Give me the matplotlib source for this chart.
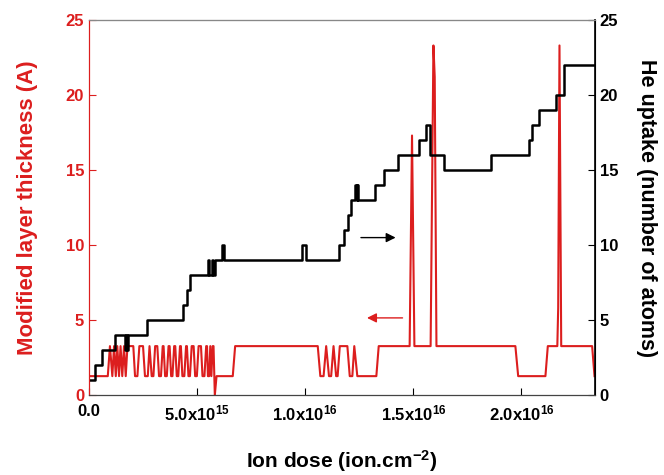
import matplotlib
matplotlib.use('Agg')
import matplotlib.pyplot as plt
import numpy as np

RED = '#dc1e1e'
plt.rcParams['font.family'] = ['Liberation Sans', 'DejaVu Sans']
plt.rcParams['font.weight'] = 'bold'
plt.rcParams['mathtext.fontset'] = 'custom'
plt.rcParams['mathtext.rm'] = 'Liberation Sans:bold'
plt.rcParams['mathtext.bf'] = 'Liberation Sans:bold'
plt.rcParams['mathtext.default'] = 'rm'

H, L = 3.27, 1.27

# modified layer thickness (dose in 1e15 ion/cm2)
red_dose = [0.0, 0.87, 0.97, 1.08, 1.16, 1.24, 1.31, 1.39, 1.46, 1.54, 1.62, 1.70, 1.78,
            2.05, 2.13, 2.24, 2.33, 2.50, 2.59, 2.72, 2.80, 2.90, 2.98, 3.06,
            3.16, 3.24, 3.33, 3.41, 3.45, 3.52, 3.60, 3.68, 3.73, 3.80, 3.86, 3.94,
            3.99, 4.06, 4.13, 4.21, 4.25, 4.32, 4.41, 4.49, 4.53, 4.60, 4.67, 4.75,
            4.84, 4.91, 4.99, 5.07, 5.18, 5.25, 5.34, 5.42, 5.46, 5.50, 5.56, 5.61,
            5.66, 5.72, 5.76, 5.82, 5.90, 6.65, 6.76,
            10.58, 10.70, 10.85, 10.97, 11.10, 11.20, 11.31, 11.43, 11.50, 11.60,
            11.95, 12.06, 12.18, 12.27, 12.41, 13.29, 13.40,
            14.83, 14.94, 15.05, 15.80, 15.93, 15.99, 16.07,
            19.72, 19.85, 21.11, 21.22, 21.66, 21.70, 21.76, 21.84,
            23.27, 23.38]
red_thick = [L, L, H, L, H, L, H, L, H, L, H, L, H,
             H, L, L, H, H, L, L, H, L, L, H,
             H, L, L, H, H, L, L, H, H, L, L, H,
             H, L, L, H, H, L, L, H, H, L, L, H,
             H, L, L, H, H, L, L, H, H, L, L, H,
             L, H, H, 0.0, L, L, H,
             H, L, L, H, L, L, H, L, L, H,
             H, L, L, H, L, L, H,
             H, 17.3, H, H, 23.3, 21.2, H,
             H, L, L, H, H, 5.8, 23.3, H,
             H, L]

# He uptake, step changes (dose in 1e15 ion/cm2)
he_dose = [0.0, 0.28, 0.60, 1.20, 1.67, 1.70, 1.76, 1.79, 2.69, 4.35, 4.54, 4.68,
           5.52, 5.56, 5.68, 5.72, 5.83, 6.14, 6.25, 9.86, 10.05,
           11.58, 11.81, 11.99, 12.13, 12.32, 12.38, 12.41, 12.45,
           13.24, 13.66, 14.31, 15.28, 15.60, 15.79, 16.44, 18.57,
           20.33, 20.51, 20.79, 21.62, 21.95, 23.40]
he_atoms = [1, 2, 3, 4, 3, 4, 3, 4, 5, 6, 7, 8,
            9, 8, 9, 8, 9, 10, 9, 10, 9,
            10, 11, 12, 13, 14, 13, 14, 13,
            14, 15, 16, 17, 18, 16, 15, 16,
            17, 18, 19, 20, 22, 22]

xticks = [0, 5e15, 1e16, 1.5e16, 2e16]
xticklabels = ['0.0', '5.0x10$^{15}$', '1.0x10$^{16}$', '1.5x10$^{16}$', '2.0x10$^{16}$']

fig = plt.figure(figsize=(6.64, 4.75), dpi=100)
ax = fig.add_axes([0.134, 0.168, 0.762, 0.79])
ax2 = ax.twinx()

ax.plot(np.array(red_dose) * 1e15, red_thick, color=RED, lw=1.5, zorder=2)
ax2.step(np.array(he_dose) * 1e15, he_atoms, where='post', color='black', lw=1.8)

ax.set_xlim(0, 2.34e16)
ax.set_ylim(0, 25)
ax2.set_ylim(0, 25)
ax.set_yticks([0, 5, 10, 15, 20, 25])
ax2.set_yticks([0, 5, 10, 15, 20, 25])
ax.set_xticks(xticks)
ax.set_xticklabels(xticklabels)

ax.tick_params(axis='x', direction='in', length=5, labelsize=12, pad=6, colors='black')
ax.tick_params(axis='y', direction='in', length=5, labelsize=12, colors=RED)
ax2.tick_params(axis='y', direction='in', length=5, labelsize=12, colors='black')

ax.spines['left'].set_color(RED)
ax2.spines['left'].set_color(RED)
ax2.spines['right'].set_color('black')
ax2.spines['right'].set_linewidth(1.2)
ax2.spines['top'].set_color('#888888')
ax2.spines['bottom'].set_color('#444444')

ax.set_xlabel('Ion dose (ion.cm$^{-2}$)', fontsize=15, fontweight='bold', labelpad=18)
ax.set_ylabel('Modified layer thickness (A)', fontsize=16, fontweight='bold', color=RED, labelpad=20)
ax2.set_ylabel('He uptake (number of atoms)', fontsize=15.5, fontweight='bold', rotation=270,
               labelpad=28)

# arrows pointing to each axis
ax2.annotate('', xy=(14.31e15, 10.5), xytext=(12.45e15, 10.5),
             arrowprops=dict(arrowstyle='-|>', color='black', lw=1, mutation_scale=14))
ax.annotate('', xy=(12.73e15, 5.15), xytext=(14.63e15, 5.15),
             arrowprops=dict(arrowstyle='-|>', color=RED, lw=1, mutation_scale=14))

fig.savefig('out.png', dpi=100)
